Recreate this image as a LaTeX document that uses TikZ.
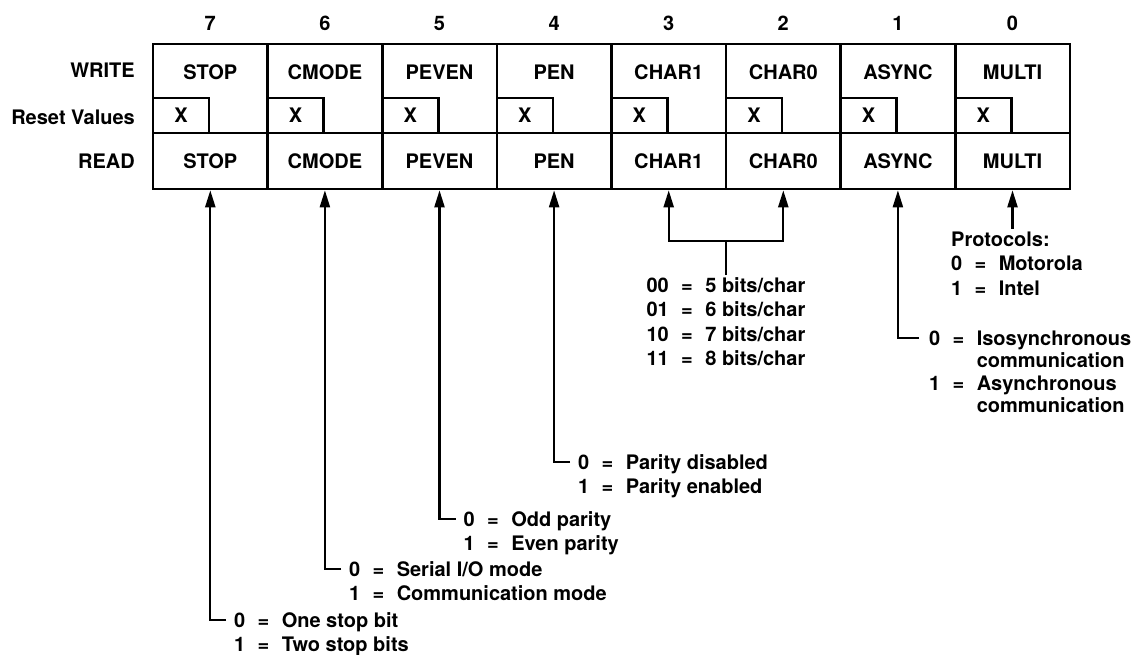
\documentclass[tikz,border=0pt]{standalone}
\usepackage{fontspec}
\setmainfont{TeX Gyre Heros}
\usetikzlibrary{arrows.meta,calc}
\newenvironment{legtab}{\begin{tabular}[t]{@{}r@{\hspace{.62em}}c@{\hspace{.62em}}l@{}}}{\end{tabular}}
\begin{document}
\begin{tikzpicture}[x=1pt,y=-1pt,
  font=\fontsize{20}{24.5}\selectfont\bfseries,
  tbl/.style={line width=2.6pt},
  arr/.style={line width=2.2pt,-{Triangle[length=17pt,width=10pt]}},
  conn/.style={line width=2.2pt},
  cellname/.style={inner sep=0pt},
  readcell/.style={draw,line width=2.6pt,minimum width=114.6pt,minimum height=56pt,inner sep=0pt},
  resetbox/.style={draw,line width=2.6pt,minimum width=56pt,minimum height=35pt,inner sep=0pt},
  lbl/.style={inner sep=0pt,anchor=east},
  bitno/.style={inner sep=0pt},
  legend/.style={inner sep=0pt,anchor=base west},
  legendtop/.style={inner sep=0pt,anchor=north}]
\useasboundingbox (0,0) rectangle (1141,654);

% row labels
\node[lbl] (lw) at (135,70) {WRITE};
\node[lbl] (lr) at (135,117) {Reset Values};
\node[lbl] (ld) at (135,161) {READ};

% register
\foreach \n/\name [count=\i from 0] in {7/STOP,6/CMODE,5/PEVEN,4/PEN,3/CHAR1,2/CHAR0,1/ASYNC,0/MULTI} {
  \pgfmathsetmacro\L{153+\i*114.6}
  \pgfmathsetmacro\C{\L+57.3}
  \node[bitno] (b\n) at (\C,23) {\n};
  \node[cellname] (w\n) at (\C,72) {\name};
  \node[readcell] (r\n) at (\C,161) {\name};
  \node[resetbox] (x\n) at (\L+28,115.5) {X};
  \draw[tbl] (\L,44) -- (\L,189);
}
\draw[tbl] (153,44) rectangle (1069.8,189);
\draw[tbl] (153,133) -- (1069.8,133);

% legends
\node[legend] (t7) at (234,627) {\begin{legtab}0&=&One stop bit\\1&=&Two stop bits\end{legtab}};
\node[legend] (t6) at (349,576) {\begin{legtab}0&=&Serial I/O mode\\1&=&Communication mode\end{legtab}};
\node[legend] (t5) at (463.5,526) {\begin{legtab}0&=&Odd parity\\1&=&Even parity\end{legtab}};
\node[legend] (t4) at (578,469) {\begin{legtab}0&=&Parity disabled\\1&=&Parity enabled\end{legtab}};
\node[legendtop] (t3) at (726,275) {\begin{legtab}00&=&5 bits/char\\01&=&6 bits/char\\10&=&7 bits/char\\11&=&8 bits/char\end{legtab}};
\node[legend,font=\fontsize{20}{22.5}\selectfont\bfseries] (t1) at (929,345) {\begin{legtab}0&=&Isosynchronous\\&&communication\\1&=&Asynchronous\\&&communication\end{legtab}};
\node[legend] (t0) at (951,246) {\begin{legtab}\multicolumn{3}{@{}l@{}}{Protocols:}\\0&=&Motorola\\1&=&Intel\end{legtab}};

% connectors
\draw[arr] ($(t7.base west)+(-8,-7)$) -| (r7.south);
\draw[arr] ($(t6.base west)+(-8,-7)$) -| (r6.south);
\draw[arr] ($(t5.base west)+(-8,-7)$) -| (r5.south);
\draw[arr] ($(t4.base west)+(-8,-7)$) -| (r4.south);
\coordinate (cj) at (726,240.6);
\draw[conn] (t3.north) -- (cj);
\draw[arr] (cj) -| (r3.south);
\draw[arr] (cj) -| (r2.south);
\draw[arr] ($(t1.base west)+(-10,-7)$) -| (r1.south);
\draw[arr] (r0.south |- t0.north) -- (r0.south);
\end{tikzpicture}
\end{document}
